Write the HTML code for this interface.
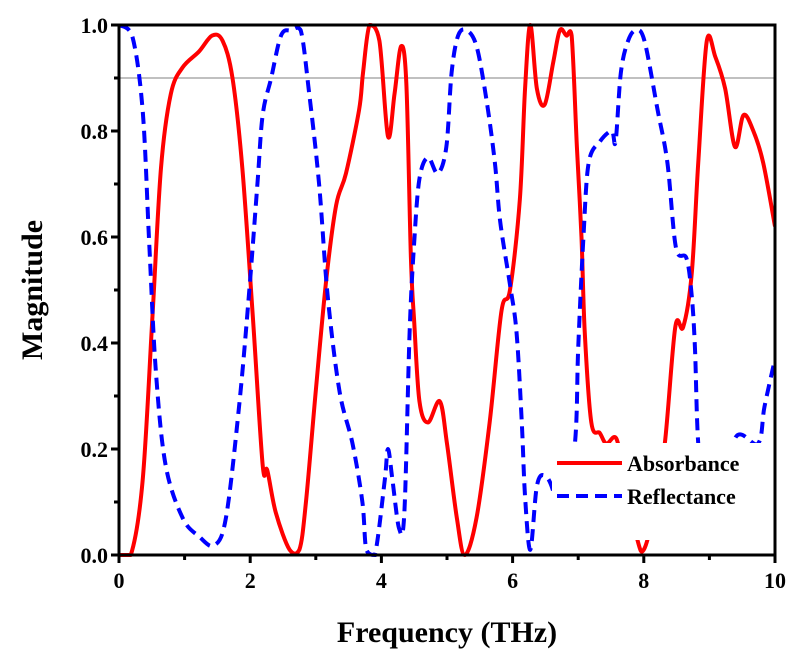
<!DOCTYPE html>
<html><head><meta charset="utf-8"><style>
html,body{margin:0;padding:0;background:#fff;width:798px;height:663px;overflow:hidden}
svg{display:block;font-family:"Liberation Serif",serif;font-weight:bold}
</style></head><body>
<svg id="chart" width="798" height="663" viewBox="0 0 798 663" xmlns="http://www.w3.org/2000/svg">
<rect x="0" y="0" width="798" height="663" fill="#fff"/>
<g id="grid"></g>
<g id="series"></g>
<g id="legend">
<rect x="552" y="443" width="222" height="97" fill="#fff"/>
<line x1="557" y1="463" x2="622" y2="463" stroke="#f00" stroke-width="4"/>
<text x="627" y="471" font-size="22">Absorbance</text>
<line x1="557" y1="496" x2="622" y2="496" stroke="#00f" stroke-width="4" stroke-dasharray="12,7"/>
<text x="627" y="504" font-size="22">Reflectance</text>
</g>
<g id="axes"></g>
<text x="447" y="642" font-size="30" text-anchor="middle">Frequency (THz)</text>
<text transform="translate(42,290) rotate(-90)" font-size="30" text-anchor="middle">Magnitude</text>
</svg>
<script>
const xTicks = [0, 2, 4, 6, 8, 10];
const yTicks = [0.0, 0.2, 0.4, 0.6, 0.8, 1.0];
const refLevel = [0.9];
const absFreq = [0,0.18,0.36,0.51,0.64,0.79,0.97,1.22,1.42,1.58,1.73,1.88,2.04,2.19,2.26,2.39,2.6,2.75,2.85,3.0,3.16,3.31,3.46,3.66,3.72,3.82,3.97,4.1,4.2,4.3,4.38,4.45,4.5,4.58,4.71,4.89,5.0,5.15,5.27,5.45,5.65,5.83,5.96,6.11,6.19,6.27,6.37,6.49,6.62,6.72,6.82,6.9,6.98,7.05,7.1,7.2,7.33,7.43,7.58,7.7,7.9,8.0,8.15,8.32,8.48,8.6,8.73,8.83,8.96,9.09,9.24,9.39,9.52,9.67,9.82,10];
const absVal = [0,0,0.14,0.45,0.73,0.87,0.92,0.95,0.98,0.97,0.9,0.73,0.45,0.17,0.16,0.08,0.01,0.01,0.1,0.31,0.52,0.66,0.72,0.84,0.91,1.0,0.97,0.79,0.87,0.96,0.89,0.56,0.44,0.29,0.25,0.29,0.21,0.07,0.0,0.07,0.25,0.46,0.5,0.67,0.88,1.0,0.88,0.85,0.93,0.99,0.98,0.98,0.77,0.6,0.42,0.25,0.23,0.21,0.22,0.15,0.03,0.01,0.08,0.21,0.43,0.43,0.53,0.74,0.97,0.94,0.88,0.77,0.83,0.8,0.74,0.62];
const refFreq = [0,0.2,0.36,0.46,0.56,0.71,0.97,1.22,1.45,1.63,1.83,1.98,2.11,2.19,2.32,2.47,2.62,2.77,2.9,3.05,3.18,3.36,3.56,3.71,3.77,3.9,4.05,4.1,4.17,4.27,4.35,4.43,4.5,4.58,4.71,4.86,4.99,5.07,5.17,5.3,5.45,5.6,5.73,5.81,5.96,6.06,6.14,6.19,6.27,6.37,6.49,6.62,6.75,6.95,7.0,7.08,7.16,7.33,7.51,7.57,7.65,7.76,7.88,8.01,8.21,8.36,8.49,8.65,8.73,8.78,8.83,8.95,9.15,9.39,9.74,9.84,10];
const refVal = [1.0,0.98,0.84,0.59,0.35,0.17,0.07,0.035,0.018,0.07,0.28,0.49,0.7,0.83,0.9,0.98,0.99,0.99,0.87,0.7,0.49,0.31,0.21,0.1,0.01,0.0,0.14,0.2,0.14,0.05,0.08,0.42,0.59,0.71,0.75,0.72,0.77,0.91,0.98,0.99,0.96,0.86,0.74,0.63,0.51,0.42,0.25,0.11,0.01,0.13,0.15,0.12,0.04,0.21,0.39,0.6,0.74,0.78,0.8,0.78,0.91,0.97,0.99,0.97,0.84,0.74,0.58,0.56,0.49,0.39,0.21,0.08,0.06,0.22,0.21,0.28,0.37];

const L=119,R=775,T=25,B=555;
const xs = f => L + (f-0)/(10-0)*(R-L);
const ys = m => B - (m-0)/(1-0)*(B-T);
const NS='http://www.w3.org/2000/svg';
function mk(tag, attrs, parent){const e=document.createElementNS(NS,tag);for(const k in attrs)e.setAttribute(k,attrs[k]);parent.appendChild(e);return e;}
const clamp=v=>Math.max(T,Math.min(B,v));
function pathD(fx,fy){
  const p=fx.map((f,i)=>[xs(f),ys(fy[i])]);
  let d='M'+p[0][0]+','+p[0][1];
  for(let i=0;i<p.length-1;i++){
    const p0=p[i-1]||p[i],p1=p[i],p2=p[i+1],p3=p[i+2]||p2;
    const c1x=p1[0]+(p2[0]-p0[0])/6,c1y=clamp(p1[1]+(p2[1]-p0[1])/6);
    const c2x=p2[0]-(p3[0]-p1[0])/6,c2y=clamp(p2[1]-(p3[1]-p1[1])/6);
    d+=' C'+c1x+','+c1y+' '+c2x+','+c2y+' '+p2[0]+','+p2[1];
  }
  return d;
}
const grid=document.getElementById('grid');
refLevel.forEach(v=>{
  const l=mk('line',{x1:L,x2:R,y1:ys(v),y2:ys(v),stroke:'#c0c0c0','stroke-width':2},grid);
  
  
});
const s=document.getElementById('series');
const cp=mk('clipPath',{id:'clip'},s);mk('rect',{x:L,y:T-3,width:R-L,height:B-T+6},cp);
const a=mk('path',{d:pathD(absFreq,absVal),fill:'none',stroke:'#f00','stroke-width':4,'stroke-linejoin':'round','clip-path':'url(#clip)'},s);


const r=mk('path',{d:pathD(refFreq,refVal),fill:'none',stroke:'#00f','stroke-width':4,'stroke-dasharray':'12,7','clip-path':'url(#clip)'},s);



const ax=document.getElementById('axes');
const fr=mk('rect',{x:L,y:T,width:R-L,height:B-T,fill:'none',stroke:'#000','stroke-width':3},ax);


xTicks.forEach((v,i)=>{
  const x=xs(v);
  const t=mk('line',{x1:x,x2:x,y1:B,y2:B+8,stroke:'#000','stroke-width':3},ax);
  
  
  if(i<xTicks.length-1){const xm=xs(v+1);const m=mk('line',{x1:xm,x2:xm,y1:B,y2:B+5,stroke:'#000','stroke-width':3},ax);
    
    }
  const tx=mk('text',{x:x,y:B+33,'font-size':22,'text-anchor':'middle'},ax);tx.textContent=String(v);
  
  
});
yTicks.forEach((v,i)=>{
  const y=ys(v);
  const t=mk('line',{x1:L-8,x2:L,y1:y,y2:y,stroke:'#000','stroke-width':3},ax);
  
  
  if(i<yTicks.length-1){const ym=ys(v+0.1);const m=mk('line',{x1:L-5,x2:L,y1:ym,y2:ym,stroke:'#000','stroke-width':3},ax);
    
    }
  const tx=mk('text',{x:L-11,y:y+8,'font-size':22,'text-anchor':'end'},ax);tx.textContent=v.toFixed(1);
  
  
});
</script>
</body></html>
